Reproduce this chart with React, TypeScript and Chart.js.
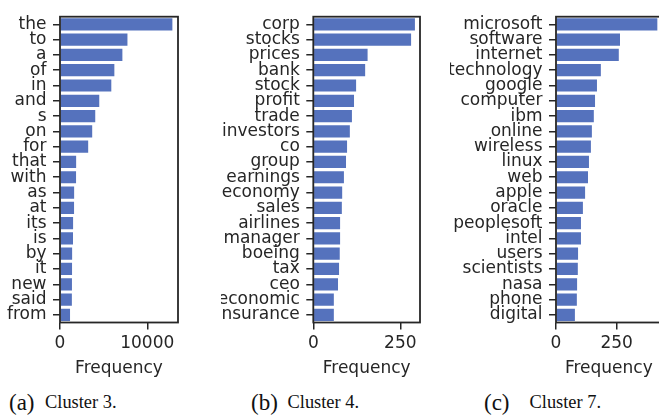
import React, { useEffect, useRef } from 'react';
import { Chart, registerables } from 'chart.js';

Chart.register(...registerables);

const catsA = ['the', 'to', 'a', 'of', 'in', 'and', 's', 'on', 'for', 'that', 'with', 'as', 'at', 'its', 'is', 'by', 'it', 'new', 'said', 'from'];
const valsA = [12880, 7730, 7150, 6230, 5880, 4500, 4040, 3690, 3230, 1850, 1840, 1620, 1610, 1500, 1490, 1390, 1380, 1370, 1360, 1150];
const ticksA = [0, 10000];
const maxA = 13524;

const catsB = ['corp', 'stocks', 'prices', 'bank', 'stock', 'profit', 'trade', 'investors', 'co', 'group', 'earnings', 'economy', 'sales', 'airlines', 'manager', 'boeing', 'tax', 'ceo', 'economic', 'insurance'];
const valsB = [292, 281, 156, 149, 123, 117, 111, 105, 97, 94, 88, 83, 82, 77, 77, 76, 74, 71, 59, 59];
const ticksB = [0, 250];
const maxB = 306.6;

const catsC = ['microsoft', 'software', 'internet', 'technology', 'google', 'computer', 'ibm', 'online', 'wireless', 'linux', 'web', 'apple', 'oracle', 'peoplesoft', 'intel', 'users', 'scientists', 'nasa', 'phone', 'digital'];
const valsC = [418, 264, 259, 185, 169, 161, 156, 148, 144, 136, 132, 120, 111, 103, 103, 91, 90, 87, 86, 78];
const ticksC = [0, 250];
const maxC = 436;

const INK = '#262626';
const BAR = '#5572bd';
const FONT = 'DejaVu Sans';
const CANVAS_H = 379;
const AREA_TOP = 6;
const AREA_BOTTOM = 322.5;

const framePlugin = {
  id: 'frame',
  afterDraw(chart: any) {
    const { ctx, chartArea: a } = chart;
    ctx.save();
    ctx.strokeStyle = INK;
    ctx.lineWidth = 1.8;
    ctx.strokeRect(a.left, a.top, a.right - a.left, a.bottom - a.top);
    ctx.restore();
  },
};

type PanelProps = {
  left: number;
  width: number;
  yW: number;
  padRight: number;
  cats: string[];
  vals: number[];
  xMax: number;
  xTicks: number[];
};

function Panel({ left, width, yW, padRight, cats, vals, xMax, xTicks }: PanelProps) {
  const ref = useRef<HTMLCanvasElement | null>(null);
  useEffect(() => {
    if (!ref.current) return;
    const chart = new Chart(ref.current, {
      type: 'bar',
      data: {
        labels: cats,
        datasets: [
          {
            data: vals,
            backgroundColor: BAR,
            borderWidth: 0,
            barPercentage: 0.8,
            categoryPercentage: 1,
          },
        ],
      },
      options: {
        indexAxis: 'y',
        responsive: false,
        maintainAspectRatio: false,
        animation: false,
        devicePixelRatio: 1,
        layout: { padding: { left: 0, right: padRight, top: AREA_TOP, bottom: 0 } },
        plugins: { legend: { display: false }, tooltip: { enabled: false } },
        scales: {
          x: {
            type: 'linear',
            min: 0,
            max: xMax,
            afterFit: (s: any) => {
              s.height = CANVAS_H - AREA_BOTTOM;
            },
            afterBuildTicks: (s: any) => {
              s.ticks = xTicks.map((v) => ({ value: v }));
            },
            grid: {
              display: true,
              drawOnChartArea: false,
              drawTicks: true,
              tickLength: 7,
              tickWidth: 1.5,
              tickColor: INK,
              lineWidth: 1.5,
              color: INK,
            },
            border: { display: false },
            ticks: {
              color: INK,
              font: { family: FONT, size: 17 },
              padding: 4,
              maxRotation: 0,
              autoSkip: false,
              callback: (v: any) => String(v),
            },
            title: {
              display: true,
              text: 'Frequency',
              color: INK,
              font: { family: FONT, size: 17 },
              padding: 0,
            },
          },
          y: {
            type: 'category',
            afterFit: (s: any) => {
              s.width = yW;
            },
            grid: {
              display: true,
              drawOnChartArea: false,
              drawTicks: true,
              tickLength: 7,
              tickWidth: 1.5,
              tickColor: INK,
              lineWidth: 1.5,
              color: INK,
              offset: false,
            },
            border: { display: false },
            ticks: {
              color: INK,
              font: { family: FONT, size: 17 },
              padding: 6.5,
              autoSkip: false,
            },
          },
        },
      },
      plugins: [framePlugin],
    } as any);
    return () => chart.destroy();
  }, []);
  return (
    <canvas
      ref={ref}
      width={width}
      height={CANVAS_H}
      style={{ position: 'absolute', left, top: 0, width, height: CANVAS_H }}
    />
  );
}

function Caption({ tag, text, tagLeft, textLeft }: { tag: string; text: string; tagLeft: number; textLeft: number }) {
  const base: React.CSSProperties = {
    position: 'absolute',
    top: 390.8,
    lineHeight: '23px',
    fontFamily: '"Liberation Serif", "Times New Roman", serif',
    color: '#111',
    whiteSpace: 'nowrap',
  };
  return (
    <>
      <div style={{ ...base, left: tagLeft, fontSize: 23 }}>{tag}</div>
      <div style={{ ...base, left: textLeft, fontSize: 18.4 }}>{text}</div>
    </>
  );
}

export default function App() {
  return (
    <div
      style={{
        position: 'absolute',
        left: 0,
        top: 0,
        width: 659,
        height: 417,
        overflow: 'hidden',
        background: '#fff',
      }}
    >
      <Panel left={0} width={200} yW={60} padRight={22} cats={catsA} vals={valsA} xMax={maxA} xTicks={ticksA} />
      <Panel left={221} width={210} yW={92.3} padRight={11} cats={catsB} vals={valsB} xMax={maxB} xTicks={ticksB} />
      <Panel left={450} width={230} yW={106} padRight={18.3} cats={catsC} vals={valsC} xMax={maxC} xTicks={ticksC} />
      <Caption tag="(a)" text="Cluster 3." tagLeft={9} textLeft={45} />
      <Caption tag="(b)" text="Cluster 4." tagLeft={251} textLeft={287.5} />
      <Caption tag="(c)" text="Cluster 7." tagLeft={484} textLeft={529.5} />
    </div>
  );
}
